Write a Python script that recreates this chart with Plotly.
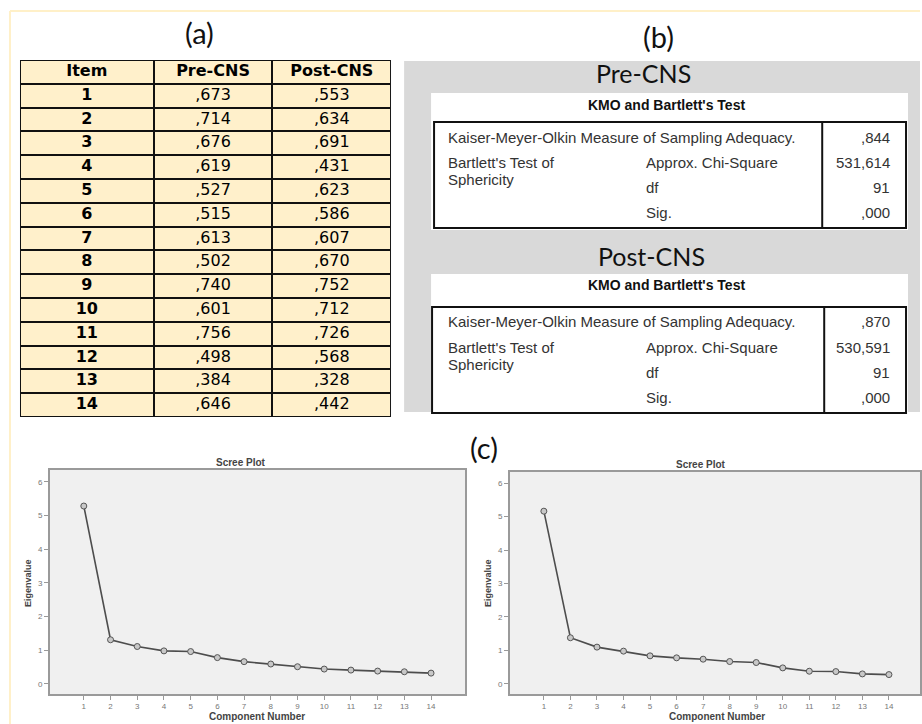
import plotly.graph_objects as go

W, H = 922, 724

# ---------------- data ----------------
items = [str(i) for i in range(1, 15)]
pre_cns = [",673", ",714", ",676", ",619", ",527", ",515", ",613", ",502", ",740", ",601", ",756", ",498", ",384", ",646"]
post_cns = [",553", ",634", ",691", ",431", ",623", ",586", ",607", ",670", ",752", ",712", ",726", ",568", ",328", ",442"]
table_headers = ["Item", "Pre-CNS", "Post-CNS"]

kmo_groups = ["Pre-CNS", "Post-CNS"]
kmo_title = "KMO and Bartlett's Test"
kmo_row_labels = ["Kaiser-Meyer-Olkin Measure of Sampling Adequacy.", "Bartlett's Test of", "Sphericity"]
kmo_sub_labels = ["Approx. Chi-Square", "df", "Sig."]
kmo_values = {
    "Pre-CNS": [",844", "531,614", "91", ",000"],
    "Post-CNS": [",870", "530,591", "91", ",000"],
}

components = list(range(1, 15))
eigen_pre = [5.28, 1.31, 1.11, 0.98, 0.96, 0.78, 0.66, 0.59, 0.51, 0.44, 0.41, 0.38, 0.36, 0.32]
eigen_post = [5.16, 1.38, 1.10, 0.98, 0.84, 0.78, 0.74, 0.67, 0.64, 0.48, 0.38, 0.37, 0.30, 0.28]
eigen_ticks = [0, 1, 2, 3, 4, 5, 6]

panel_labels = ["(a)", "(b)", "(c)"]


def X(p):
    return p / W


def Y(p):
    return 1 - p / H


fig = go.Figure()
shapes = []
annotations = []

# ---------------- background frame lines ----------------
shapes.append(dict(type="line", xref="paper", yref="paper", x0=X(10), x1=X(922), y0=Y(11), y1=Y(11),
                   line=dict(color="#FFF0C8", width=2)))
shapes.append(dict(type="line", xref="paper", yref="paper", x0=X(10), x1=X(10), y0=Y(11), y1=Y(724),
                   line=dict(color="#FFF0C8", width=2)))

# ---------------- (a) table drawn as heatmap ----------------
col_widths = [134, 119, 119]
edges = [0]
for w_ in col_widths:
    edges.append(edges[-1] + w_)
centers = [(edges[i] + edges[i + 1]) / 2 for i in range(3)]
n_rows = len(items) + 1
rows = list(range(n_rows))
z = [[0, 0, 0] for _ in rows]

fig.add_trace(go.Heatmap(z=z, x=edges, y=rows, colorscale=[[0, "#111"], [1, "#111"]], showscale=False,
                         hoverinfo="skip", xaxis="x3", yaxis="y3"))
fig.add_trace(go.Heatmap(z=z, x=edges, y=rows, colorscale=[[0, "#FFF0CB"], [1, "#FFF0CB"]], showscale=False,
                         xgap=2, ygap=2, hoverinfo="skip", xaxis="x3", yaxis="y3"))

tx, ty, tt = [], [], []
for c, h in enumerate(table_headers):
    tx.append(centers[c]); ty.append(0); tt.append("<b>%s</b>" % h)
for r in range(len(items)):
    for c, v in enumerate([f"<b>{items[r]}</b>", pre_cns[r], post_cns[r]]):
        tx.append(centers[c]); ty.append(r + 1); tt.append(v)
fig.add_trace(go.Scatter(x=tx, y=ty, text=tt, mode="text", textposition="middle center",
                         textfont=dict(family="DejaVu Sans", size=16, color="#000"),
                         hoverinfo="skip", showlegend=False, xaxis="x3", yaxis="y3"))

# ---------------- (b) KMO panels ----------------
shapes.append(dict(type="rect", xref="paper", yref="paper", x0=X(405), x1=X(922), y0=Y(61), y1=Y(412),
                   fillcolor="#D9D9D9", line=dict(width=0), layer="below"))
panel_geo = {
    "Pre-CNS": dict(title_y=73, title_x=645, box_top=93, head_y=105, inner_top=122, inner_left=435, div_x=824),
    "Post-CNS": dict(title_y=256, title_x=653, box_top=274, head_y=285, inner_top=307, inner_left=433, div_x=826),
}
inner_h = 106
row_off = [15, 40, 65, 90]
sph_off = 57
txt_font = dict(family="Liberation Sans, Arial", size=15, color="#333")
for g in kmo_groups:
    geo = panel_geo[g]
    top = geo["inner_top"]
    bot = top + inner_h
    shapes.append(dict(type="rect", xref="paper", yref="paper", x0=X(432), x1=X(910), y0=Y(geo["box_top"]),
                       y1=Y(bot + 2), fillcolor="#FFFFFF", line=dict(width=0), layer="below"))
    shapes.append(dict(type="rect", xref="paper", yref="paper", x0=X(geo["inner_left"]), x1=X(908), y0=Y(top),
                       y1=Y(bot), line=dict(color="#111", width=2)))
    shapes.append(dict(type="line", xref="paper", yref="paper", x0=X(geo["div_x"]), x1=X(geo["div_x"]), y0=Y(top),
                       y1=Y(bot), line=dict(color="#111", width=2)))
    annotations.append(dict(text=g, x=X(geo["title_x"]), y=Y(geo["title_y"]), xref="paper", yref="paper",
                            showarrow=False, xanchor="center", yanchor="middle",
                            font=dict(family="Lato, Open Sans", size=25, color="#111")))
    annotations.append(dict(text="<b>%s</b>" % kmo_title, x=X(668), y=Y(geo["head_y"]), xref="paper", yref="paper",
                            showarrow=False, xanchor="center", yanchor="middle",
                            font=dict(family="Liberation Sans, Arial", size=14, color="#111")))
    annotations.append(dict(text=kmo_row_labels[0], x=X(447), y=Y(top + row_off[0]), xref="paper", yref="paper",
                            showarrow=False, xanchor="left", yanchor="middle", font=txt_font))
    annotations.append(dict(text=kmo_row_labels[1], x=X(447), y=Y(top + row_off[1]), xref="paper", yref="paper",
                            showarrow=False, xanchor="left", yanchor="middle", font=txt_font))
    annotations.append(dict(text=kmo_row_labels[2], x=X(447), y=Y(top + sph_off), xref="paper", yref="paper",
                            showarrow=False, xanchor="left", yanchor="middle", font=txt_font))
    for i, s in enumerate(kmo_sub_labels):
        annotations.append(dict(text=s, x=X(645), y=Y(top + row_off[i + 1]), xref="paper", yref="paper",
                                showarrow=False, xanchor="left", yanchor="middle", font=txt_font))
    for i, v in enumerate(kmo_values[g]):
        annotations.append(dict(text=v, x=X(894), y=Y(top + row_off[i]), xref="paper", yref="paper",
                                showarrow=False, xanchor="right", yanchor="middle", font=txt_font))

# ---------------- (c) scree plots ----------------
line_style = dict(color="#4d4d4d", width=1.6)
marker_style = dict(symbol="circle", size=6, color="#c8c8c8", line=dict(color="#555", width=1))
fig.add_trace(go.Scatter(x=components, y=eigen_pre, mode="lines+markers", line=line_style, marker=marker_style,
                         showlegend=False, xaxis="x", yaxis="y"))
fig.add_trace(go.Scatter(x=components, y=eigen_post, mode="lines+markers", line=line_style, marker=marker_style,
                         showlegend=False, xaxis="x2", yaxis="y2"))

ax_common = dict(showline=True, mirror=True, linecolor="#9a9a9a", linewidth=1.5, showgrid=False, zeroline=False,
                 ticks="outside", ticklen=4, tickcolor="#999", tickfont=dict(family="Liberation Sans", size=8, color="#777"))

scree_geo = [
    dict(left=50, right=466, top=470, bottom=694, ax="x", ay="y", xr=[-0.27, 15.27], yr=[-0.30, 6.35]),
    dict(left=511, right=922, top=472, bottom=694, ax="x2", ay="y2", xr=[-0.28, 15.17], yr=[-0.30, 6.33]),
]
layout_axes = {}
for gdef in scree_geo:
    xa = "xaxis" + gdef["ax"][1:]
    ya = "yaxis" + gdef["ay"][1:]
    layout_axes[xa] = dict(ax_common, domain=[X(gdef["left"]), X(gdef["right"])], range=gdef["xr"],
                           tickvals=components, anchor=gdef["ay"])
    layout_axes[ya] = dict(ax_common, domain=[Y(gdef["bottom"]), Y(gdef["top"])], range=gdef["yr"],
                           tickvals=eigen_ticks, anchor=gdef["ax"])
    annotations.append(dict(text="<b>Scree Plot</b>", x=X(gdef["left"] + 192), y=Y(gdef["top"] - 8), xref="paper",
                            yref="paper", showarrow=False, xanchor="center", yanchor="middle",
                            font=dict(family="Liberation Sans", size=10, color="#444")))
    annotations.append(dict(text="<b>Component Number</b>", x=X(gdef["left"] + 208), y=Y(716), xref="paper",
                            yref="paper", showarrow=False, xanchor="center", yanchor="middle",
                            font=dict(family="Liberation Sans", size=10, color="#444")))
    annotations.append(dict(text="<b>Eigenvalue</b>", x=X(gdef["left"] - 22), y=Y(583), xref="paper",
                            yref="paper", showarrow=False, xanchor="center", yanchor="middle", textangle=-90,
                            font=dict(family="Liberation Sans", size=9, color="#444")))

layout_axes["xaxis3"] = dict(domain=[X(20), X(392)], range=[edges[0], edges[-1]], visible=False, anchor="y3")
layout_axes["yaxis3"] = dict(domain=[Y(417), Y(60)], range=[n_rows - 0.5, -0.5], visible=False, anchor="x3")

# panel labels
for lab, (lx, ly) in zip(panel_labels, [(200, 33), (660, 37), (485, 447)]):
    annotations.append(dict(text=lab, x=X(lx), y=Y(ly), xref="paper", yref="paper", showarrow=False,
                            xanchor="center", yanchor="middle", font=dict(family="Lato, Open Sans", size=29, color="#111")))

fig.update_layout(width=W, height=H, margin=dict(l=0, r=0, t=0, b=0), paper_bgcolor="#FFFFFF",
                  plot_bgcolor="#F0F0F0", showlegend=False, shapes=shapes, annotations=annotations, **layout_axes)

fig.write_html("out.html", config={"displayModeBar": False},
               post_script="document.body.style.margin='0px';document.body.style.overflow='hidden';")
